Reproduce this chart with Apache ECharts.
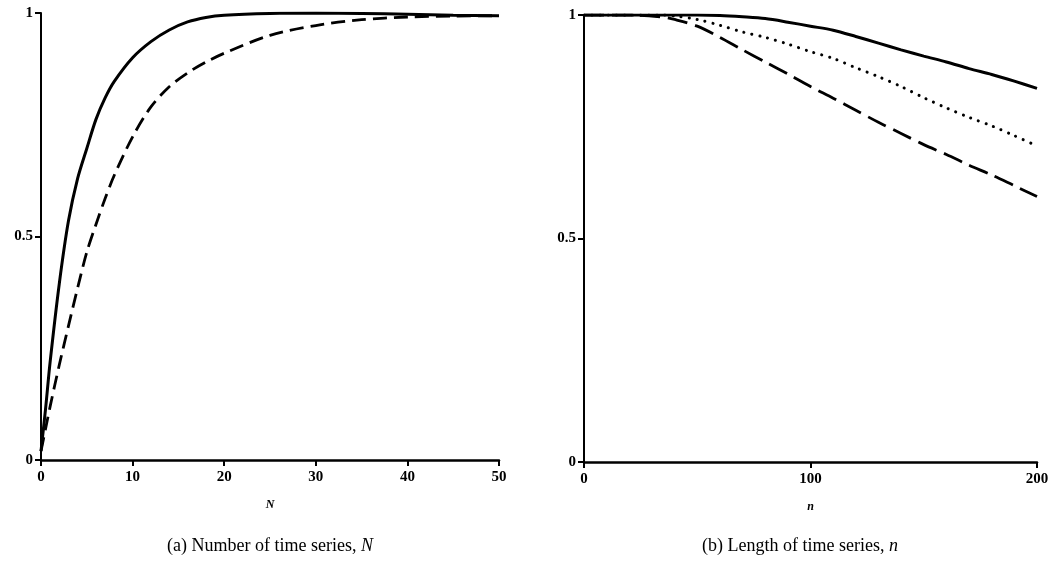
<!DOCTYPE html>
<html>
<head>
<meta charset="utf-8">
<script src="https://cdn.jsdelivr.net/npm/echarts@6/dist/echarts.min.js"></script>
<style>html,body{margin:0;padding:0;background:#fff;}#c{width:1053px;height:562px;}</style>
</head>
<body>
<div id="c"></div>
<script>
// Panel (a): number of time series N
var leftN = [0, 0.5, 1, 2, 3, 4, 5, 6, 7, 8, 10, 12, 14, 16, 18, 20, 25, 30, 35, 40, 45, 50];
var leftSolid = [0.02, 0.115, 0.22, 0.395, 0.535, 0.63, 0.697, 0.762, 0.81, 0.847, 0.9, 0.936, 0.962, 0.98, 0.99, 0.995, 0.999, 1.0, 0.999, 0.997, 0.995, 0.994];
var leftDashed = [0.02, 0.07, 0.12, 0.213, 0.3, 0.385, 0.465, 0.527, 0.585, 0.637, 0.723, 0.79, 0.835, 0.866, 0.89, 0.91, 0.95, 0.972, 0.985, 0.991, 0.993, 0.994];
var leftXTicks = [0, 50, 10];

// Panel (b): length of time series n
var rightN = [0, 20, 35, 40, 50, 60, 70, 80, 90, 100, 110, 120, 130, 140, 150, 160, 170, 180, 190, 200];
var rightSolid = [1, 1, 1, 1, 1.0, 0.999, 0.996, 0.992, 0.984, 0.975, 0.966, 0.952, 0.937, 0.922, 0.908, 0.895, 0.88, 0.867, 0.852, 0.836];
var rightDotted = [1, 1, 1, 0.998, 0.99, 0.977, 0.962, 0.95, 0.935, 0.918, 0.903, 0.882, 0.862, 0.84, 0.815, 0.792, 0.771, 0.752, 0.73, 0.707];
var rightDashed = [1, 1, 0.995, 0.99, 0.975, 0.95, 0.922, 0.895, 0.868, 0.84, 0.814, 0.787, 0.76, 0.735, 0.71, 0.688, 0.664, 0.642, 0.618, 0.594];
var rightXTicks = [0, 200, 100];
var yTicks = [0, 1, 0.5];

function pairs(xs, ys) { return xs.map(function (x, i) { return [x, ys[i]]; }); }

var tickFont = { color: '#000', fontFamily: 'Liberation Serif', fontWeight: 'bold', fontSize: 15 };
function xAxis(gi, t, name) {
  return {
    type: 'value', gridIndex: gi, min: t[0], max: t[1], interval: t[2],
    name: name, nameLocation: 'middle', nameGap: 39,
    nameTextStyle: { color: '#000', fontFamily: 'Liberation Serif', fontStyle: 'italic', fontWeight: 'bold', fontSize: 12 },
    axisLine: { lineStyle: { color: '#000', width: 2.5 } },
    axisTick: { length: 6, lineStyle: { color: '#000', width: 2 } },
    axisLabel: Object.assign({ margin: 10 }, tickFont),
    splitLine: { show: false }
  };
}
function yAxis(gi) {
  return {
    type: 'value', gridIndex: gi, min: yTicks[0], max: yTicks[1], interval: yTicks[2],
    axisLine: { show: true, lineStyle: { color: '#000', width: 2 } },
    axisTick: { show: true, length: 6, lineStyle: { color: '#000', width: 2 } },
    axisLabel: Object.assign({ margin: 8 }, tickFont),
    splitLine: { show: false }
  };
}
function line(xi, data, type, width, cap) {
  return {
    type: 'line', xAxisIndex: xi, yAxisIndex: xi, data: data, smooth: 0.3,
    symbol: 'none', silent: true,
    lineStyle: { color: '#000', width: width, type: type, cap: cap || 'butt' }
  };
}

var chart = echarts.init(document.getElementById('c'));
chart.setOption({
  backgroundColor: '#fff',
  animation: false,
  title: [
    { text: '(a) Number of time series, {i|N}', left: 265, top: 532, textAlign: 'center',
      textStyle: { color: '#000', fontFamily: 'Liberation Serif', fontWeight: 'normal', fontSize: 18,
        rich: { i: { fontFamily: 'Liberation Serif', fontStyle: 'italic', fontSize: 18, color: '#000' } } } },
    { text: '(b) Length of time series, {i|n}', left: 795, top: 532, textAlign: 'center',
      textStyle: { color: '#000', fontFamily: 'Liberation Serif', fontWeight: 'normal', fontSize: 18,
        rich: { i: { fontFamily: 'Liberation Serif', fontStyle: 'italic', fontSize: 18, color: '#000' } } } }
  ],
  grid: [
    { left: 41, right: 554, top: 13, bottom: 102 },
    { left: 584, right: 16, top: 15, bottom: 100 }
  ],
  xAxis: [xAxis(0, leftXTicks, 'N'), xAxis(1, rightXTicks, 'n')],
  yAxis: [yAxis(0), yAxis(1)],
  series: [
    line(0, pairs(leftN, leftSolid), 'solid', 3),
    line(0, pairs(leftN, leftDashed), [14, 7], 2.8),
    line(1, pairs(rightN, rightSolid), 'solid', 3),
    line(1, pairs(rightN, rightDotted), [0.1, 8], 3, 'round'),
    line(1, pairs(rightN, rightDashed), [20, 8], 2.8)
  ]
});
</script>
</body>
</html>
